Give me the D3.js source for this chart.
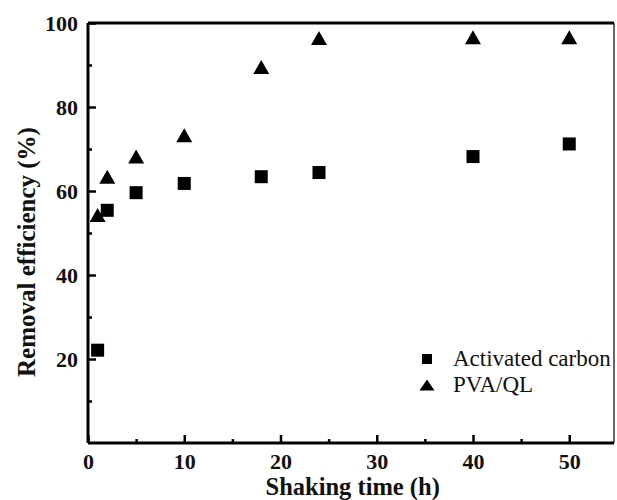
<!DOCTYPE html>
<html>
<head>
<meta charset="utf-8">
<script src="https://cdn.jsdelivr.net/npm/d3@7"></script>
<style>
  body { margin: 0; background: #fff; }
  svg { display: block; }
</style>
</head>
<body>
<svg id="chart"></svg>
<script>
var serif = '"Liberation Serif", "Times New Roman", serif';

// shaking time (h)
var times = [1, 2, 5, 10, 18, 24, 40, 50];
// removal efficiency (%)
var carbonValues = [22.1, 55.4, 59.6, 61.8, 63.4, 64.4, 68.2, 71.2];
var pvaValues = [54.3, 63.4, 68.2, 73.3, 89.5, 96.4, 96.6, 96.6];

var seriesNames = ["Activated carbon", "PVA/QL"];
var xTicks = [0, 10, 20, 30, 40, 50];
var yTicks = [20, 40, 60, 80, 100];

var svgWidth = 617, svgHeight = 500;
var margin = { top: 23, right: 3, bottom: 57, left: 88 };
var width = svgWidth - margin.left - margin.right;
var height = svgHeight - margin.top - margin.bottom;

var svg = d3.select("#chart")
    .attr("width", svgWidth)
    .attr("height", svgHeight);

var g = svg.append("g")
    .attr("transform", "translate(" + margin.left + "," + margin.top + ")");

var x = d3.scaleLinear()
    .domain([0, 54.65])
    .range([0, width]);

var y = d3.scaleLinear()
    .domain([0, 100])
    .range([height, 0]);

// minor ticks (inside, short)
g.append("g")
    .attr("transform", "translate(0," + height + ")")
    .call(d3.axisTop(x).tickValues([5, 15, 25, 35, 45]).tickSize(4).tickFormat(""))
    .call(function(a) { a.select(".domain").remove(); })
    .selectAll("line").attr("stroke-width", 2.5);

g.append("g")
    .call(d3.axisRight(y).tickValues([10, 30, 50, 70, 90]).tickSize(4).tickFormat(""))
    .call(function(a) { a.select(".domain").remove(); })
    .selectAll("line").attr("stroke-width", 2.5);

// x axis, major ticks pointing in
var xAxis = g.append("g")
    .attr("transform", "translate(0," + height + ")")
    .call(d3.axisTop(x).tickValues(xTicks).tickSize(8).tickFormat(d3.format("d")));
xAxis.attr("font-family", serif);
xAxis.select(".domain").remove();
xAxis.selectAll("line").attr("stroke-width", 2.5);
xAxis.selectAll("text")
    .attr("y", 26)
    .attr("dy", 0)
    .style("font-family", serif)
    .style("font-size", "22px")
    .style("font-weight", "bold")
    .attr("fill", "#111");

// y axis
var yAxis = g.append("g")
    .call(d3.axisRight(y).tickValues(yTicks).tickSize(8).tickFormat(d3.format("d")));
yAxis.attr("font-family", serif);
yAxis.select(".domain").remove();
yAxis.selectAll("line").attr("stroke-width", 2.5);
yAxis.selectAll("text")
    .attr("x", -10)
    .attr("dy", "0.34em")
    .attr("text-anchor", "end")
    .style("font-family", serif)
    .style("font-size", "22px")
    .style("font-weight", "bold")
    .attr("fill", "#111");

// frame: thick left/bottom/top, thin right
g.append("line").attr("x1", 0).attr("x2", width).attr("y1", height).attr("y2", height)
    .attr("stroke", "#000").attr("stroke-width", 3);
g.append("line").attr("x1", 0).attr("x2", 0).attr("y1", 0).attr("y2", height)
    .attr("stroke", "#000").attr("stroke-width", 3);
g.append("line").attr("x1", 0).attr("x2", width).attr("y1", 0).attr("y2", 0)
    .attr("stroke", "#000").attr("stroke-width", 3);
g.append("line").attr("x1", width).attr("x2", width).attr("y1", 0).attr("y2", height)
    .attr("stroke", "#000").attr("stroke-width", 1.2);

// triangle centered on its bounding box
function triPath(w, h) {
    return "M0," + (-h / 2) + "L" + (w / 2) + "," + (h / 2) + "L" + (-w / 2) + "," + (h / 2) + "Z";
}

var carbonData = times.map(function(t, i) { return { t: t, v: carbonValues[i] }; });
var pvaData = times.map(function(t, i) { return { t: t, v: pvaValues[i] }; });

g.selectAll(".carbon")
    .data(carbonData)
    .enter().append("rect")
    .attr("class", "carbon")
    .attr("x", function(d) { return x(d.t) - 6.5; })
    .attr("y", function(d) { return y(d.v) - 6.5; })
    .attr("width", 13)
    .attr("height", 13)
    .attr("fill", "#000");

g.selectAll(".pva")
    .data(pvaData)
    .enter().append("path")
    .attr("class", "pva")
    .attr("d", triPath(16, 14))
    .attr("transform", function(d) { return "translate(" + x(d.t) + "," + y(d.v) + ")"; })
    .attr("fill", "#000");

// legend
var legend = svg.append("g").attr("transform", "translate(427,359)");
legend.append("rect")
    .attr("x", -5).attr("y", -5).attr("width", 10).attr("height", 10)
    .attr("fill", "#000");
legend.append("path")
    .attr("d", triPath(15, 11))
    .attr("transform", "translate(0,26)")
    .attr("fill", "#000");
legend.selectAll("text")
    .data(seriesNames)
    .enter().append("text")
    .attr("x", 26)
    .attr("y", function(d, i) { return i * 26 + 7; })
    .style("font-family", serif)
    .style("font-size", "23px")
    .attr("fill", "#111")
    .text(function(d) { return d; });

// axis titles
svg.append("text")
    .attr("x", margin.left + x(27.5))
    .attr("y", 495)
    .attr("text-anchor", "middle")
    .style("font-family", serif)
    .style("font-size", "24.5px")
    .style("font-weight", "bold")
    .attr("fill", "#111")
    .text("Shaking time (h)");

svg.append("text")
    .attr("transform", "translate(35,252) rotate(-90)")
    .attr("text-anchor", "middle")
    .style("font-family", serif)
    .style("font-size", "25px")
    .style("font-weight", "bold")
    .attr("fill", "#111")
    .text("Removal efficiency (%)");
</script>
</body>
</html>
